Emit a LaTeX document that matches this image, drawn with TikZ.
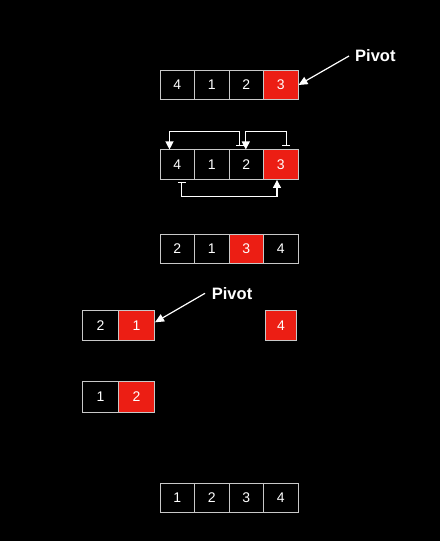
\documentclass[tikz,border=0pt]{standalone}
\usepackage{fontspec}
\setmainfont{Liberation Sans}
\usetikzlibrary{arrows.meta,calc}
\definecolor{cellred}{RGB}{236,30,20}
\definecolor{cellborder}{RGB}{200,200,200}
\tikzset{
  cell/.style={draw=cellborder,line width=1pt,fill=black,text=white,
    minimum width=34.5pt,minimum height=29.5pt,inner sep=0pt,
    font=\fontsize{14}{14}\selectfont},
  redcell/.style={cell,fill=cellred},
  wide/.style={minimum width=36pt,minimum height=30pt},
  conn/.style={draw=white,line width=1.2pt},
  swap/.style={conn,-{Triangle[width=8pt,length=8pt]}},
  pivlabel/.style={text=white,font=\bfseries\fontsize{16.5}{16.5}\selectfont,anchor=west,inner sep=0pt},
  pivarrow/.style={draw=white,line width=1.2pt,-{Triangle[width=8pt,length=9pt]}}
}
\begin{document}
\begin{tikzpicture}[x=1pt,y=-1pt]
\useasboundingbox[fill=black] (0,0) rectangle (440,541);
% row 1
\node[cell] (r1a) at (177.25,85) {4};
\node[cell] (r1b) at (211.75,85) {1};
\node[cell] (r1c) at (246.25,85) {2};
\node[redcell] (r1d) at (280.75,85) {3};
\node[pivlabel] (p1) at (355,55.7) {Pivot};
\draw[pivarrow] (p1.west) ++(-6,0.3) coordinate (p1s) -- (r1d.east);
% row 2
\node[cell] (r2a) at (177.25,164.7) {4};
\node[cell] (r2b) at (211.75,164.7) {1};
\node[cell] (r2c) at (246.25,164.7) {2};
\node[redcell] (r2d) at (280.75,164.7) {3};
\coordinate (t1) at ($(r2c.north west)+(11,-3)$);
\coordinate (a1) at ($(r2a.north west)+(10,0)$);
\draw[conn,{Bar[width=8pt]}-{Triangle[width=8pt,length=8pt]}] (t1) |- ($(a1)+(0,-17.7)$) -- (a1);
\coordinate (t2) at ($(r2d.north west)+(23.2,-3)$);
\coordinate (a2) at ($(r2c.north west)+(17.3,0)$);
\draw[conn,{Bar[width=8pt]}-{Triangle[width=8pt,length=8pt]}] (t2) |- ($(a2)+(0,-17.7)$) -- (a2);
\coordinate (t3) at ($(r2a.south west)+(22.3,2)$);
\coordinate (a3) at ($(r2d.south west)+(14,0)$);
\draw[conn,{Bar[width=8pt]}-{Triangle[width=8pt,length=8pt]}] (t3) |- ($(a3)+(0,16.8)$) -- (a3);
% row 3
\node[cell] (r3a) at (177.25,248.8) {2};
\node[cell] (r3b) at (211.75,248.8) {1};
\node[redcell] (r3c) at (246.25,248.8) {3};
\node[cell] (r3d) at (280.75,248.8) {4};
% row 4
\node[cell,wide] (r4a) at (100.4,325.3) {2};
\node[redcell,wide] (r4b) at (136.5,325.3) {1};
\node[redcell,minimum width=31.4pt,minimum height=30pt] (r4c) at (281,325.3) {4};
\node[pivlabel] (p2) at (211.7,293.3) {Pivot};
\draw[pivarrow] (p2.west) ++(-6.7,0) coordinate (p2s) -- ($(r4b.east)+(0,-3)$);
% row 5
\node[cell,wide,minimum height=31pt] (r5a) at (100.4,396.8) {1};
\node[redcell,wide,minimum height=31pt] (r5b) at (136.5,396.8) {2};
% row 6
\node[cell] (r6a) at (177.25,497.8) {1};
\node[cell] (r6b) at (211.75,497.8) {2};
\node[cell] (r6c) at (246.25,497.8) {3};
\node[cell] (r6d) at (280.75,497.8) {4};
\end{tikzpicture}
\end{document}
